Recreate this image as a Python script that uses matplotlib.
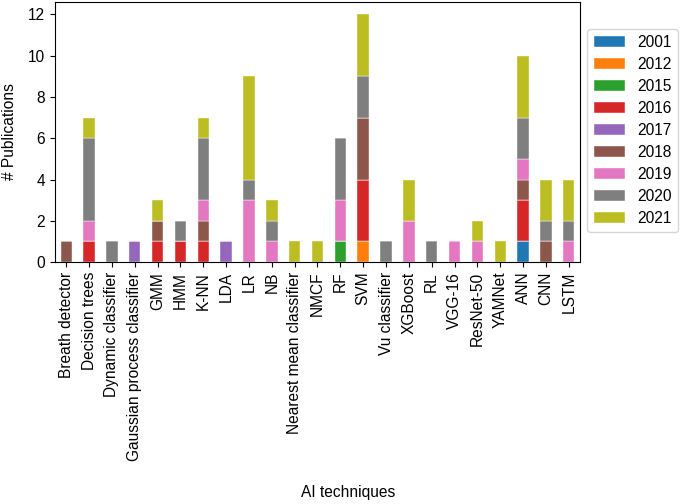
import numpy as np
import matplotlib
matplotlib.use("Agg")
import matplotlib.pyplot as plt

plt.rcParams['font.family'] = ['Liberation Sans', 'DejaVu Sans']

techniques = ['Breath detector', 'Decision trees', 'Dynamic classifier',
              'Gaussian process classifier', 'GMM', 'HMM', 'K-NN', 'LDA', 'LR',
              'NB', 'Nearest mean classifier', 'NMCF', 'RF', 'SVM',
              'Vu classifier', 'XGBoost', 'RL', 'VGG-16', 'ResNet-50', 'YAMNet',
              'ANN', 'CNN', 'LSTM']

years = ['2001', '2012', '2015', '2016', '2017', '2018', '2019', '2020', '2021']

#            BD DT DC GP GMM HMM KNN LDA LR NB NM NMCF RF SVM Vu XGB RL VGG Res YAM ANN CNN LSTM
y2001 = [0, 0, 0, 0, 0, 0, 0, 0, 0, 0, 0, 0, 0, 0, 0, 0, 0, 0, 0, 0, 1, 0, 0]
y2012 = [0, 0, 0, 0, 0, 0, 0, 0, 0, 0, 0, 0, 0, 1, 0, 0, 0, 0, 0, 0, 0, 0, 0]
y2015 = [0, 0, 0, 0, 0, 0, 0, 0, 0, 0, 0, 0, 1, 0, 0, 0, 0, 0, 0, 0, 0, 0, 0]
y2016 = [0, 1, 0, 0, 1, 1, 1, 0, 0, 0, 0, 0, 0, 3, 0, 0, 0, 0, 0, 0, 2, 0, 0]
y2017 = [0, 0, 0, 1, 0, 0, 0, 1, 0, 0, 0, 0, 0, 0, 0, 0, 0, 0, 0, 0, 0, 0, 0]
y2018 = [1, 0, 0, 0, 1, 0, 1, 0, 0, 0, 0, 0, 0, 3, 0, 0, 0, 0, 0, 0, 1, 1, 0]
y2019 = [0, 1, 0, 0, 0, 0, 1, 0, 3, 1, 0, 0, 2, 0, 0, 2, 0, 1, 1, 0, 1, 0, 1]
y2020 = [0, 4, 1, 0, 0, 1, 3, 0, 1, 1, 0, 0, 3, 2, 1, 0, 1, 0, 0, 0, 2, 1, 1]
y2021 = [0, 1, 0, 0, 1, 0, 1, 0, 5, 1, 1, 1, 0, 3, 0, 2, 0, 0, 1, 1, 3, 2, 2]

counts = [y2001, y2012, y2015, y2016, y2017, y2018, y2019, y2020, y2021]
colors = ['#1f77b4', '#ff7f0e', '#2ca02c', '#d62728', '#9467bd',
          '#8c564b', '#e377c2', '#7f7f7f', '#bcbd22']

fig = plt.figure(figsize=(6.85, 5.04), dpi=100)
ax = fig.add_axes([0.080, 0.480, 0.767, 0.516])

x = np.arange(len(techniques))
bottom = np.zeros(len(techniques))
for year, vals, c in zip(years, counts, colors):
    vals = np.array(vals, dtype=float)
    ax.bar(x, vals, width=0.5, bottom=bottom, color=c, label=year,
           edgecolor='white', linewidth=0.3)
    bottom += vals

ax.set_xlim(-0.5, len(techniques) - 0.5)
ax.set_ylim(0, 12.6)
ax.set_yticks(range(0, 13, 2))
ax.set_xticks(x)
ax.set_xticklabels(techniques, rotation=90, fontsize=11.2)
ax.tick_params(axis='y', labelsize=11.2)
ax.set_ylabel('# Publications', fontsize=11.2, labelpad=8)
fig.text(0.508, 0.022, 'AI techniques', ha='center', va='center', fontsize=11.2)

ax.legend(loc='upper left', bbox_to_anchor=(1.005, 0.915), fontsize=11.2,
          handlelength=2.0, labelspacing=0.45, borderaxespad=0.3)

fig.savefig('out.png', dpi=100)
